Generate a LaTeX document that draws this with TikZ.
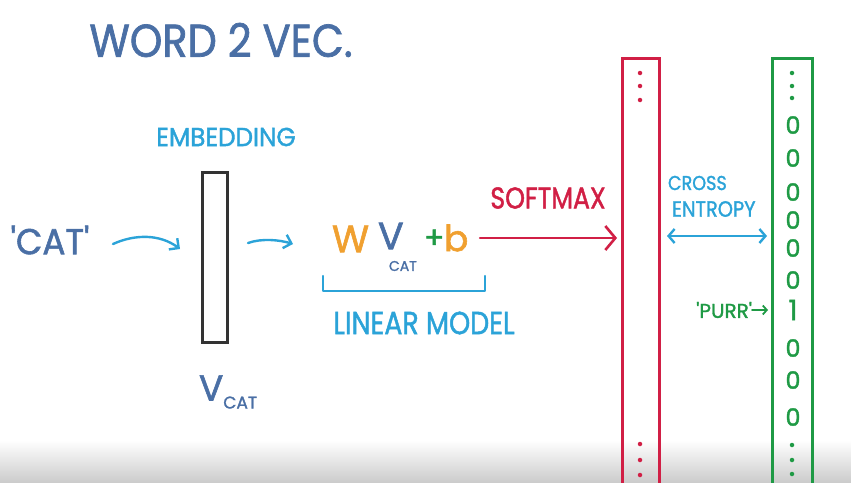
\documentclass[tikz,border=0pt]{standalone}
\usepackage{fontspec}
\setmainfont{Poppins}
\newfontfamily\handfont{Poppins}[FakeBold=1.6]
\usetikzlibrary{arrows.meta,calc}
\definecolor{inkblue}{HTML}{4A6FA5}
\definecolor{inkcyan}{HTML}{2BA3D8}
\definecolor{inkred}{HTML}{D11F45}
\definecolor{inkgreen}{HTML}{1F9A45}
\definecolor{inkorange}{HTML}{F0A030}
\definecolor{inkgray}{HTML}{333333}
\tikzset{
  hand/.style={inner sep=0pt, outer sep=0pt, font=\handfont},
  pen/.style={line width=2.4pt, line cap=round, line join=round},
  barb/.style={-{Straight Barb[length=7pt,width=14pt,line width=2.4pt]}},
  column/.style={draw, line width=3pt, minimum width=37pt, inner sep=0pt, rectangle},
  dotmark/.style={circle, fill, inner sep=0pt, minimum size=4.5pt},
}
\newcommand{\fs}[1]{\fontsize{#1}{#1}\selectfont}
\begin{document}
\begin{tikzpicture}[x=1pt,y=-1pt]
\useasboundingbox (0,0) rectangle (851,482);
\shade[top color=white, bottom color=black!20] (0,440) rectangle (851,482);

% title
\node[hand, text=inkblue, xscale=0.9] (title) at (221,40) {\fs{46}WORD 2 VEC.};

% embedding
\node[hand, text=inkcyan, xscale=0.95] (emblbl) at (226,137) {\fs{26}EMBEDDING};
\node[draw=inkgray, line width=3pt, minimum width=25pt, minimum height=170pt, inner sep=0pt] (emb) at (215,257) {};
\node[hand, text=inkblue, anchor=west] (vcat) at (199,392) {\fs{36}V\raisebox{-8pt}{\fs{17}CAT}};

% cat
\node[hand, text=inkblue, xscale=0.95] (cat) at (50,240) {\fs{36}'CAT'};

\coordinate (a1s) at (113,244);
\coordinate (a1e) at (180,249);
\draw[pen, inkcyan, barb] (a1s) .. controls (135,234) and (160,234) .. (a1e);
\coordinate (a2s) at (248,243);
\coordinate (a2e) at (293,244);
\draw[pen, inkcyan, barb] (a2s) .. controls (262,238) and (280,240) .. (a2e);

% linear model
\node[hand, text=inkorange, anchor=west] (W) at (332,239) {\fs{38}W};
\node[hand, text=inkblue, anchor=west] (V) at (378,236) {\fs{38}V};
\node[hand, text=inkblue, anchor=west] (Vsub) at (389,266) {\fs{14}CAT};
\node[hand, text=inkgreen, anchor=west] (plus) at (424,239) {\fs{30}+};
\node[hand, text=inkorange, anchor=west] (b) at (444,238) {\fs{36}b};

\coordinate (brl) at (323,276);
\coordinate (brr) at (485,276);
\draw[pen, inkcyan] (brl) -- ++(0,15) -- ($(brr)+(0,15)$) -- (brr);
\node[hand, text=inkcyan, xscale=0.84] (linlbl) at (424,323) {\fs{32}LINEAR MODEL};

% softmax
\node[hand, text=inkred, xscale=0.84] (softlbl) at (548,198) {\fs{30}SOFTMAX};

% red column
\node[column, draw=inkred, minimum height=440pt, anchor=north] (pred) at (641,57) {};
\foreach \y in {73,86,100,444,460,475} \node[dotmark, inkred] at (640,\y) {};

% green column
\node[column, draw=inkgreen, minimum height=440pt, minimum width=40pt, anchor=north] (target) at (792,57) {};
\foreach \y in {73,86,98,445,460,474} \node[dotmark, inkgreen] at (792,\y) {};
\foreach \y/\d in {125/0,158/0,192/0,220/0,248/0,280/0,348/0,380/0,417/0}
  \node[hand, text=inkgreen] at (793,\y) {\fs{24}\d};
\node[hand, text=inkgreen] (one) at (793,310) {\fs{28}1};

% softmax arrow
\coordinate (sms) at (480,238);
\draw[pen, inkred, -{Straight Barb[length=10pt,width=24pt,line width=2.6pt]}] (sms) -- ($(pred.west |- sms)+(-4,0)$);

% cross entropy
\node[hand, text=inkcyan, xscale=0.88, anchor=west] (cross) at (668,183) {\fs{20}CROSS};
\node[hand, text=inkcyan, xscale=0.88, anchor=west] (entropy) at (672,209) {\fs{22}ENTROPY};
\coordinate (cel) at (667,236);
\coordinate (cer) at (767,236);
\draw[pen, inkcyan, {Straight Barb[length=6pt,width=14pt,line width=2.4pt]}-{Straight Barb[length=6pt,width=14pt,line width=2.4pt]}] (cel) -- (cer);

% purr
\node[hand, text=inkgreen, anchor=east] (purr) at (752,310) {\fs{20}'PURR'};
\coordinate (purrtip) at (768,310);
\draw[line width=1.8pt, line cap=round, inkgreen, -{Straight Barb[length=4pt,width=9pt,line width=1.8pt]}] (purr.east) -- (purrtip);
\end{tikzpicture}
\end{document}
